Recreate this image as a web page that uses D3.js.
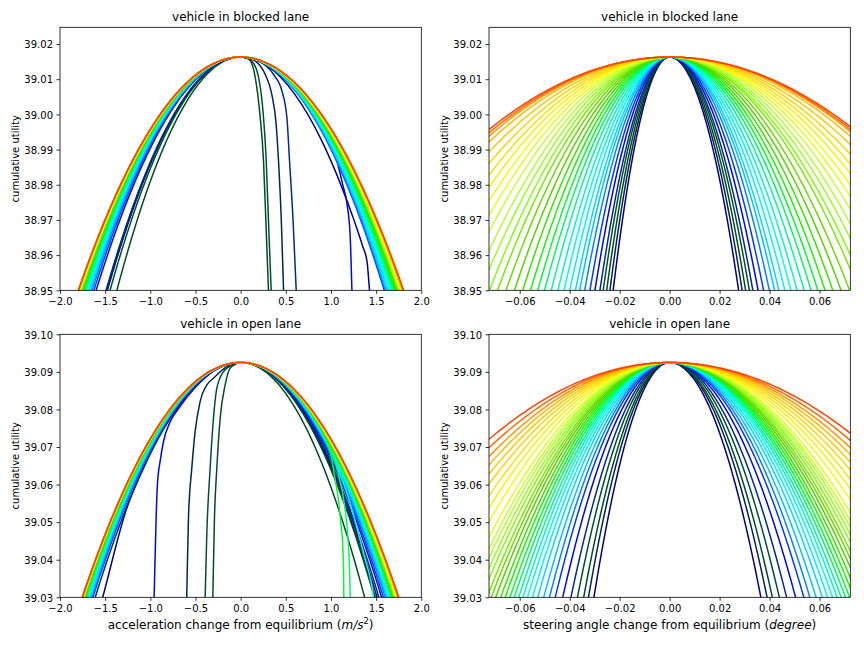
<!DOCTYPE html>
<html><head><meta charset="utf-8">
<script src="https://cdn.jsdelivr.net/npm/d3@7"></script>
<style>body{margin:0;background:#fff}svg{display:block}text{font-family:"DejaVu Sans",sans-serif}</style>
</head><body><svg id="c" width="864" height="648"></svg>
<script>
// ---------- tick labels ----------
const accXTicks = [-2.0,-1.5,-1.0,-0.5,0.0,0.5,1.0,1.5,2.0];
const steerXTicks = [-0.06,-0.04,-0.02,0.00,0.02,0.04,0.06];
const blockedYTicks = [38.95,38.96,38.97,38.98,38.99,39.00,39.01,39.02];
const openYTicks = [39.03,39.04,39.05,39.06,39.07,39.08,39.09,39.10];
const titles = ["vehicle in blocked lane","vehicle in open lane"];

// ---------- peak utilities / floor of each row ----------
const blockedPeak = 39.0163, blockedFloor = 38.95;
const openPeak = 39.0925, openFloor = 39.03;

// ---------- half-widths (x where curve reaches the floor), curve 0..34 ----------
const accBlockedLeftW = [1.483,1.475,1.37,1.446,1.49,1.60,1.625,1.645,1.66,1.675,1.688,1.70,1.71,1.72,1.728,1.736,1.743,1.75,1.756,1.761,1.766,1.77,1.774,1.777,1.78,1.783,1.785,1.787,1.789,1.791,1.793,1.794,1.795,1.796,1.797];
const accBlockedRightW = [null,null,null,null,null,null,1.59,1.60,1.615,1.63,1.645,1.66,1.672,1.684,1.695,1.705,1.714,1.723,1.731,1.738,1.745,1.752,1.758,1.764,1.769,1.774,1.778,1.782,1.786,1.79,1.794,1.797,1.80,1.802,1.804];
const accOpenLeftW = [null,null,null,null,1.61,null,1.635,1.648,1.66,1.67,1.68,1.688,1.696,1.703,1.709,1.715,1.72,1.725,1.729,1.733,1.736,1.739,1.741,1.743,1.744,1.745,1.746,1.747,1.748,1.749,1.750,1.751,1.752,1.753,1.754];
const accOpenRightW = [1.51,1.49,1.372,1.48,1.53,1.56,1.58,1.60,1.615,1.63,1.64,null,1.655,1.665,null,null,1.675,1.683,1.69,1.697,1.703,1.709,1.714,1.719,1.723,1.727,1.731,1.734,1.737,1.740,1.742,1.744,1.746,1.748,1.750];

const steerBlockedLeftW = [0.0226,0.0239,0.0252,0.0266,0.0279,0.0299,0.0319,0.0340,0.0360,0.0377,0.0400,0.0423,0.0447,0.0474,0.0501,0.0528,0.0557,0.0588,0.0621,0.0655,0.0689,0.0721,0.0757,0.0793,0.0835,0.0877,0.0920,0.0968,0.1017,0.1071,0.1134,0.1198,0.1241,0.1268,0.1297];
const steerBlockedRightW = [0.0276,0.0290,0.0304,0.0319,0.0333,0.0354,0.0376,0.0399,0.0420,0.0437,0.0461,0.0485,0.0510,0.0538,0.0566,0.0593,0.0622,0.0653,0.0686,0.0720,0.0758,0.0785,0.0820,0.0855,0.0895,0.0935,0.0976,0.1022,0.1068,0.1120,0.1180,0.1240,0.1279,0.1300,0.1323];
const steerOpenLeftW = [0.0303,0.0325,0.0344,0.0369,0.0395,0.0428,0.0458,0.0481,0.0504,0.0528,0.0549,0.0569,0.0587,0.0604,0.0622,0.0639,0.0658,0.0676,0.0696,0.0714,0.0731,0.0753,0.0772,0.0793,0.0812,0.0838,0.0878,0.0919,0.0960,0.1005,0.1049,0.1095,0.1142,0.1200,0.1264];
const steerOpenRightW = [0.0365,0.0390,0.0411,0.0439,0.0468,0.0504,0.0537,0.0561,0.0586,0.0611,0.0632,0.0652,0.0670,0.0686,0.0704,0.0720,0.0738,0.0755,0.0774,0.0791,0.0807,0.0827,0.0845,0.0864,0.0881,0.0905,0.0945,0.0985,0.1025,0.1068,0.1110,0.1155,0.1200,0.1255,0.1317];

// ---------- read-off branches of curves that break away (x, utility) ----------
const accBlockedRight0 = [[0.3,39.0137],[0.6,39.0057],[0.9,38.9924],[1.1,38.9806],[1.25,38.9703],[1.35,38.9626],[1.40,38.9580],[1.427,38.9500]];
const accBlockedRight1 = [[0.08,39.0160],[0.161,39.0152],[0.271,39.0114],[0.345,39.0057],[0.393,38.9972],[0.419,38.9869],[0.45,38.9700],[0.475,38.9500]];
const accBlockedRight2 = [[0.06,39.0160],[0.105,39.0153],[0.161,39.0106],[0.216,38.9993],[0.253,38.9869],[0.283,38.9671],[0.308,38.9500]];
const accBlockedRight3 = [[0.07,39.0160],[0.125,39.0152],[0.198,39.0106],[0.253,38.9992],[0.283,38.9869],[0.312,38.9670],[0.338,38.9500]];
const accBlockedRight4 = [[0.1,39.0160],[0.197,39.0152],[0.363,39.0114],[0.456,39.0067],[0.512,38.9991],[0.541,38.9869],[0.58,38.9700],[0.615,38.9500]];
const accBlockedRight5 = [[0.3,39.0140],[0.6,39.0070],[0.85,38.9976],[1.066,38.9869],[1.13,38.9800],[1.177,38.9747],[1.213,38.9652],[1.232,38.9500]];
const accOpenLeft0 = [[-0.25,39.0910],[-0.5,39.0860],[-0.781,39.0776],[-1.077,39.0643],[-1.261,39.0537],[-1.527,39.0300]];
const accOpenLeft1 = [[-0.153,39.0914],[-0.301,39.0883],[-0.375,39.0865],[-0.449,39.0821],[-0.504,39.0741],[-0.541,39.0643],[-0.578,39.0510],[-0.597,39.0300]];
const accOpenLeft2 = [[-0.042,39.0922],[-0.116,39.0910],[-0.172,39.0865],[-0.227,39.0776],[-0.264,39.0643],[-0.290,39.0510],[-0.308,39.0300]];
const accOpenLeft3 = [[-0.080,39.0920],[-0.191,39.0900],[-0.264,39.0856],[-0.301,39.0776],[-0.338,39.0643],[-0.375,39.0466],[-0.393,39.0300]];
const accOpenLeft5 = [[-0.3,39.0902],[-0.5,39.0860],[-0.7,39.0798],[-0.781,39.0767],[-0.855,39.0714],[-0.892,39.0661],[-0.922,39.0599],[-0.936,39.0510],[-0.958,39.0300]];
const accOpenRight11 = [[0.4,39.0890],[0.7,39.0819],[0.9,39.0744],[1.05,39.0660],[1.213,39.0550],[1.361,39.0417],[1.454,39.0328],[1.472,39.0300]];
const accOpenRight14 = [[0.4,39.0890],[0.7,39.0819],[0.9,39.0744],[1.0,39.0690],[1.08,39.0630],[1.15,39.0545],[1.19,39.0450],[1.205,39.0380],[1.213,39.0300]];
const accOpenRight15 = [[0.4,39.0890],[0.7,39.0819],[0.85,39.0766],[0.95,39.0715],[1.011,39.0665],[1.047,39.0612],[1.083,39.0559],[1.109,39.0497],[1.13,39.0440],[1.139,39.0380],[1.142,39.0300]];

const nCurves = 35;
const colorSpan = 0.69; // portion of gist_ncar used

// ---------- gist_ncar colormap ----------
const ncarR = [[0,0],[0.3098,0],[0.3725,0.3993],[0.4235,0.5003],[0.5333,1],[0.7922,1],[0.8471,0.6218],[0.898,0.9235],[1,0.9961]];
const ncarG = [[0,0],[0.051,0.3722],[0.1059,0],[0.1569,0.7202],[0.1608,0.7537],[0.1647,0.7752],[0.2157,1],[0.2588,0.9804],[0.2706,0.9804],[0.3176,1],[0.3686,0.8081],[0.4275,1],[0.5216,1],[0.6314,0.7292],[0.6863,0.2796],[0.7451,0],[0.7922,0],[0.8431,0.1753],[0.898,0.5],[1,0.9725]];
const ncarB = [[0,0.502],[0.051,0.0222],[0.1098,1],[0.2039,1],[0.2627,0.6145],[0.3216,0],[0.4157,0],[0.4745,0.2342],[0.5333,0],[0.5804,0],[0.6314,0],[0.6902,0],[0.7373,0],[0.7922,0.9738],[0.8,1],[0.8431,1],[0.898,0.9341],[1,0.9961]];
function seg(tab,t){for(let k=1;k<tab.length;k++){if(t<=tab[k][0]){const a=tab[k-1],b=tab[k];return a[1]+(b[1]-a[1])*(t-a[0])/(b[0]-a[0]);}}return tab[tab.length-1][1];}
function ncar(t){return d3.rgb(255*seg(ncarR,t),255*seg(ncarG,t),255*seg(ncarB,t)).toString();}

const panels = [
  {x0:60, y0:27.3, xd:[-2,2], yd:[38.95,39.02475], xt:accXTicks, xf:".1f", yt:blockedYTicks, title:titles[0],
   peak:blockedPeak, floor:blockedFloor, lw:accBlockedLeftW, rw:accBlockedRightW,
   lp:{}, rp:{0:accBlockedRight0,1:accBlockedRight1,2:accBlockedRight2,3:accBlockedRight3,4:accBlockedRight4,5:accBlockedRight5}, xlabel:null},
  {x0:489, y0:27.3, xd:[-0.0723,0.0723], xt:steerXTicks, xf:".2f", yd:[38.95,39.02475], yt:blockedYTicks, title:titles[0],
   peak:blockedPeak, floor:blockedFloor, lw:steerBlockedLeftW, rw:steerBlockedRightW, lp:{}, rp:{}, xlabel:null},
  {x0:60, y0:334.3, xd:[-2,2], yd:[39.03,39.10], xt:accXTicks, xf:".1f", yt:openYTicks, title:titles[1],
   peak:openPeak, floor:openFloor, lw:accOpenLeftW, rw:accOpenRightW,
   lp:{0:accOpenLeft0,1:accOpenLeft1,2:accOpenLeft2,3:accOpenLeft3,5:accOpenLeft5}, rp:{11:accOpenRight11,14:accOpenRight14,15:accOpenRight15}, xlabel:"acc"},
  {x0:489, y0:334.3, xd:[-0.0723,0.0723], xt:steerXTicks, xf:".2f", yd:[39.03,39.10], yt:openYTicks, title:titles[1],
   peak:openPeak, floor:openFloor, lw:steerOpenLeftW, rw:steerOpenRightW, lp:{}, rp:{}, xlabel:"steer"}
];
const PW = 361.3, PH = 263;

const svg = d3.select("#c");
svg.append("rect").attr("width",864).attr("height",648).attr("fill","#fff");
const defs = svg.append("defs");

function branch(side, w, pts, peak, floor, xMax){
  if (pts){
    const p = pts.map(d=>[d[0],d[1]]);
    const a = p[p.length-2], b = p[p.length-1];
    p.push([b[0]+(b[0]-a[0])*0.4, b[1]+(b[1]-a[1])*0.4]);
    return p;
  }
  const out = [];
  const xEnd = Math.min(1.08*w, xMax*1.05);
  const n = 90;
  for (let k=1;k<=n;k++){ const x = xEnd*k/n; out.push([side*x, peak-(peak-floor)*(x/w)*(x/w)]); }
  return out;
}

panels.forEach((P,pi)=>{
  const x1 = P.x0+PW, y1 = P.y0+PH;
  const xs = d3.scaleLinear().domain(P.xd).range([P.x0,x1]);
  const ys = d3.scaleLinear().domain(P.yd).range([y1,P.y0]);
  const cid = "clip"+pi;
  defs.append("clipPath").attr("id",cid).append("rect").attr("x",P.x0).attr("y",P.y0).attr("width",PW).attr("height",PH);
  const g = svg.append("g");
  const lg = g.append("g").attr("clip-path",`url(#${cid})`);
  const line = d3.line().x(d=>xs(d[0])).y(d=>ys(d[1])).curve(d3.curveMonotoneX);
  const xMax = P.xd[1];
  for (let i=0;i<nCurves;i++){
    const L = branch(-1, P.lw[i], P.lp[i], P.peak, P.floor, xMax).slice().reverse();
    const R = branch(1, P.rw[i], P.rp[i], P.peak, P.floor, xMax);
    const pts = L.concat([[0,P.peak]], R);
    lg.append("path").attr("d", line(pts)).attr("fill","none")
      .attr("stroke", ncar(i/(nCurves-1)*colorSpan)).attr("stroke-width",1.5)
      .attr("stroke-linejoin","round").attr("stroke-linecap","butt");
  }
  // frame
  g.append("rect").attr("x",P.x0).attr("y",P.y0).attr("width",PW).attr("height",PH)
    .attr("fill","none").attr("stroke","#000").attr("stroke-width",0.8);
  // axes
  const ax = g.append("g").attr("transform",`translate(0,${y1})`)
    .call(d3.axisBottom(xs).tickValues(P.xt).tickFormat(d3.format(P.xf)).tickSize(3.5).tickPadding(4.1));
  const ay = g.append("g").attr("transform",`translate(${P.x0},0)`)
    .call(d3.axisLeft(ys).tickValues(P.yt).tickFormat(d3.format(".2f")).tickSize(3.5).tickPadding(3.5));
  [ax,ay].forEach(a=>{
    a.select(".domain").remove();
    a.attr("font-family","DejaVu Sans").attr("font-size",10);
    a.selectAll("line").attr("stroke","#000").attr("stroke-width",0.8);
    a.selectAll("text").attr("fill","#000");
  });
  ay.selectAll("text").attr("dy","0.37em");
  // title
  g.append("text").attr("x",(P.x0+x1)/2).attr("y",P.y0-6).attr("text-anchor","middle")
    .attr("font-size",12).attr("fill","#000").text(P.title);
  // y label
  g.append("text").attr("transform",`translate(${P.x0-41},${(P.y0+y1)/2}) rotate(-90)`)
    .attr("text-anchor","middle").attr("font-size",10).attr("fill","#000").text("cumulative utility");
  // x label
  if (P.xlabel){
    const t = g.append("text").attr("x",(P.x0+x1)/2).attr("y",629).attr("text-anchor","middle")
      .attr("font-size",12).attr("fill","#000");
    if (P.xlabel==="acc"){
      t.append("tspan").text("acceleration change from equilibrium (");
      t.append("tspan").attr("font-style","italic").text("m/s");
      t.append("tspan").attr("font-size",8.4).attr("dy",-5).text("2");
      t.append("tspan").attr("dy",5).text(")");
    } else {
      t.append("tspan").text("steering angle change from equilibrium (");
      t.append("tspan").attr("font-style","italic").text("degree");
      t.append("tspan").text(")");
    }
  }
});
</script></body></html>
